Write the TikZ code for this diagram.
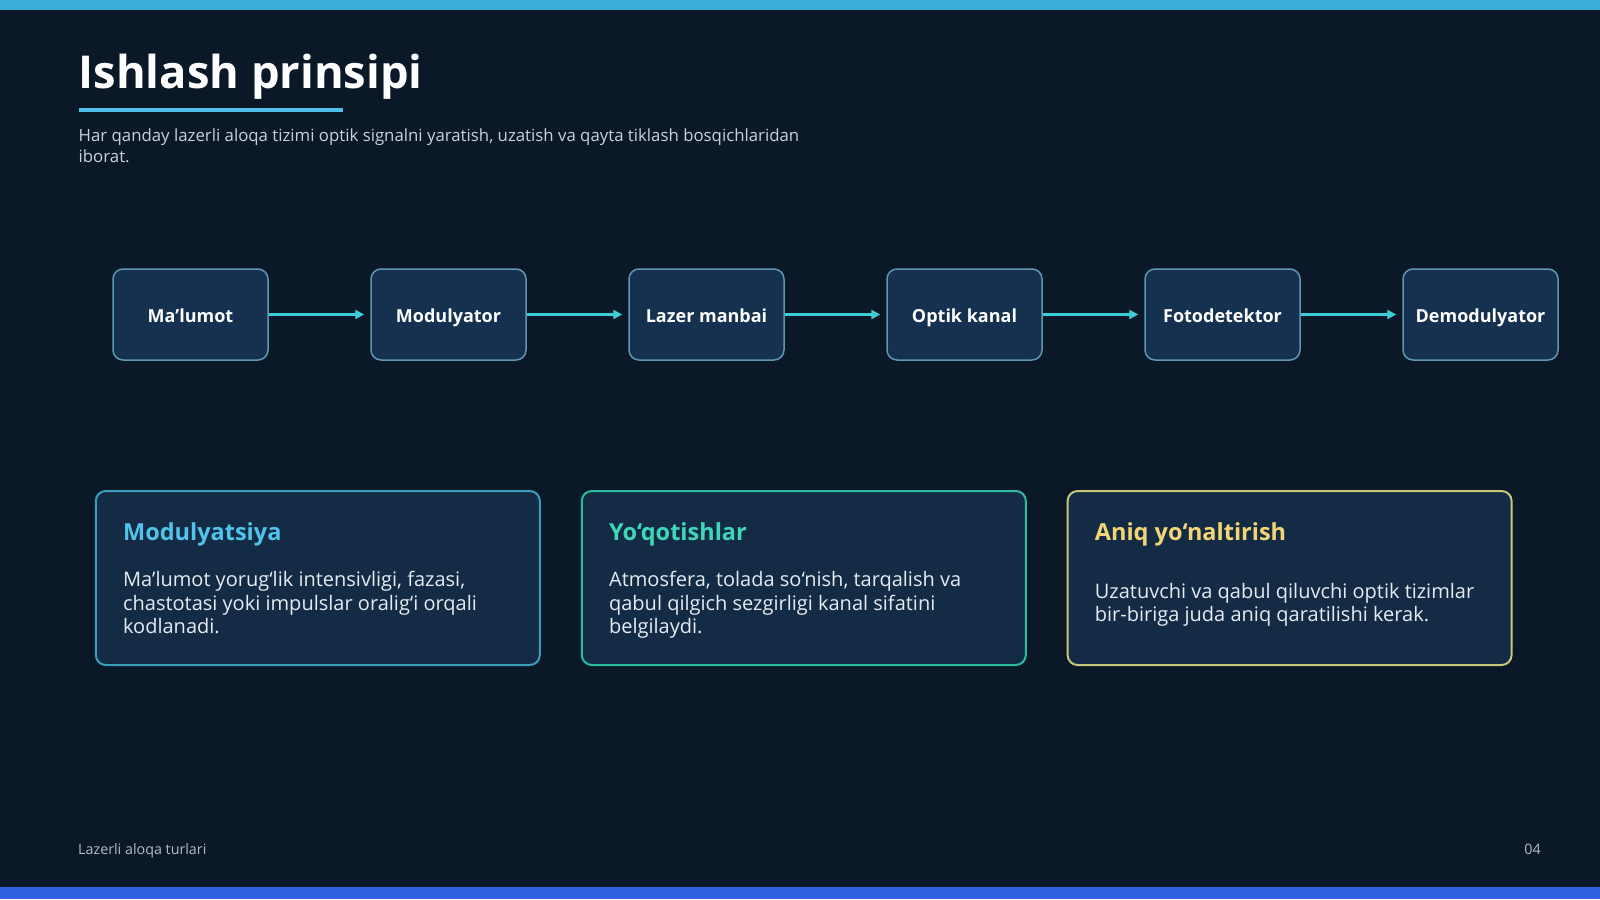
\documentclass[tikz,border=0pt]{standalone}
\usepackage{fontspec}
\setmainfont{Open Sans}
\usetikzlibrary{arrows.meta}
\definecolor{bgc}{HTML}{0B1827}
\definecolor{topbar}{HTML}{3AAED6}
\definecolor{botbar}{HTML}{3062E0}
\definecolor{accent}{HTML}{4DBFEA}
\definecolor{subtxt}{HTML}{C9D1DB}
\definecolor{footc}{HTML}{B3BCC8}
\definecolor{boxfill}{HTML}{16314F}
\definecolor{boxline}{HTML}{6096B0}
\definecolor{arrowc}{HTML}{3CCFD8}
\definecolor{cardfill}{HTML}{132B45}
\definecolor{cardA}{HTML}{3A9EBA}
\definecolor{cardB}{HTML}{2DBB9E}
\definecolor{cardC}{HTML}{C9C57A}
\definecolor{titleA}{HTML}{52C3EA}
\definecolor{titleB}{HTML}{3FD7B5}
\definecolor{titleC}{HTML}{F2D675}
\definecolor{bodyc}{HTML}{E6EBF0}
\tikzset{
  flowbox/.style={draw=boxline, line width=1.5pt, fill=boxfill, rounded corners=10pt,
    minimum width=155pt, minimum height=91pt, inner sep=0pt, text=white,
    text height=15.9pt, text depth=0pt,
    font=\fontsize{18}{22}\selectfont\bfseries},
  flowarrow/.style={draw=arrowc, line width=3pt, -{Triangle[length=9pt,width=9pt]}},
  card/.style={line width=2pt, fill=cardfill, rounded corners=10pt,
    minimum width=444pt, minimum height=174pt, inner sep=0pt},
  cardtitle/.style={anchor=base west, inner sep=0pt, font=\fontsize{23.5}{28}\selectfont\bfseries},
  cardbody/.style={anchor=base west, inner sep=0pt, align=left, text=bodyc,
    font=\fontsize{20}{23.5}\selectfont}
}
\begin{document}
\begin{tikzpicture}[x=1pt,y=-1pt]
\useasboundingbox (0,0) rectangle (1600,899);
\fill[bgc] (0,0) rectangle (1600,899);
\fill[topbar] (0,0) rectangle (1600,10);
\fill[botbar] (0,887) rectangle (1600,899);

\node[anchor=base west, inner sep=0pt, text=white, font=\fontsize{45.3}{50}\selectfont\bfseries] (title) at (78.5,88.3) {Ishlash prinsipi};
\fill[accent] (78.5,108) rectangle (342.5,112);
\node[anchor=base west, inner sep=0pt, align=left, text=subtxt, font=\fontsize{16.8}{20.4}\selectfont] (sub) at (78.5,162.1) {Har qanday lazerli aloqa tizimi optik signalni yaratish, uzatish va qayta tiklash bosqichlaridan\\iborat.};

\node[flowbox] (b1) at (190.5,314.5) {Ma’lumot};
\node[flowbox] (b2) at (448.5,314.5) {Modulyator};
\node[flowbox] (b3) at (706.5,314.5) {Lazer manbai};
\node[flowbox] (b4) at (964.5,314.5) {Optik kanal};
\node[flowbox] (b5) at (1222.5,314.5) {Fotodetektor};
\node[flowbox] (b6) at (1480.5,314.5) {Demodulyator};
\draw[flowarrow] (b1.east) -- ([xshift=-6pt]b2.west);
\draw[flowarrow] (b2.east) -- ([xshift=-6pt]b3.west);
\draw[flowarrow] (b3.east) -- ([xshift=-6pt]b4.west);
\draw[flowarrow] (b4.east) -- ([xshift=-6pt]b5.west);
\draw[flowarrow] (b5.east) -- ([xshift=-6pt]b6.west);

\node[card, draw=cardA] (c1) at (317.8,578) {};
\node[card, draw=cardB] (c2) at (803.8,578) {};
\node[card, draw=cardC] (c3) at (1289.6,578) {};

\node[cardtitle, text=titleA] (t1) at (122.9,540) {Modulyatsiya};
\node[cardbody] (d1) at (122.9,633.5) {Ma’lumot yorug‘lik intensivligi, fazasi,\\chastotasi yoki impulslar oralig‘i orqali\\kodlanadi.};
\node[cardtitle, text=titleB] (t2) at (608.9,540) {Yo‘qotishlar};
\node[cardbody] (d2) at (608.9,633.5) {Atmosfera, tolada so‘nish, tarqalish va\\qabul qilgich sezgirligi kanal sifatini\\belgilaydi.};
\node[cardtitle, text=titleC] (t3) at (1094.7,540) {Aniq yo‘naltirish};
\node[cardbody] (d3) at (1094.7,621.5) {Uzatuvchi va qabul qiluvchi optik tizimlar\\bir-biriga juda aniq qaratilishi kerak.};

\node[anchor=base west, inner sep=0pt, text=footc, font=\fontsize{14.3}{17}\selectfont] (foot) at (78,854) {Lazerli aloqa turlari};
\node[anchor=base east, inner sep=0pt, text=footc, font=\fontsize{14.3}{17}\selectfont] (pnum) at (1541,854) {04};
\end{tikzpicture}
\end{document}
